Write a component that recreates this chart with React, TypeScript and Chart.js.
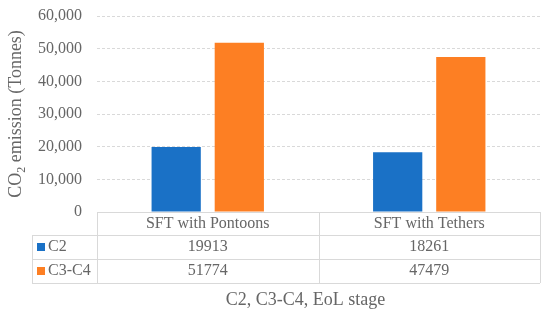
import React, { useEffect, useRef } from 'react';
import { Chart, registerables } from 'chart.js';

Chart.register(...registerables);

// ---- data ----
const categories = ['SFT with Pontoons', 'SFT with Tethers'];
const seriesNames = ['C2', 'C3-C4'];
const c2Values = [19913, 18261];
const c3c4Values = [51774, 47479];
const yMin = 0;
const yMax = 60000;
const yStep = 10000;
const yTitleParts = ['CO', '2', ' emission (Tonnes)'];
const xTitle = 'C2, C3-C4, EoL stage';

// ---- styles ----
const FONT = "'Liberation Serif', 'Times New Roman', serif";
const TEXT = '#666666';
const GRID = '#d9d9d9';
const COLORS = ['#1A71C6', '#FD7F23'];

const annotatePlugin = {
  id: 'tableAndTitles',
  afterDraw(chart: any) {
    const { ctx, chartArea, scales } = chart;
    const xs = scales.x;
    const top = chartArea.bottom;
    const left = chartArea.left;
    const right = chartArea.right;
    const legendLeft = 32;
    const headerH = 23;
    const rowH = 24;
    const ys = [top, top + headerH, top + headerH + rowH, top + headerH + 2 * rowH];
    const n = chart.data.labels.length;
    const bounds: number[] = [];
    for (let i = 0; i <= n; i++) {
      if (i === 0) bounds.push(left);
      else if (i === n) bounds.push(right);
      else bounds.push((xs.getPixelForValue(i - 1) + xs.getPixelForValue(i)) / 2);
    }
    const p = (v: number) => Math.round(v) + 0.5;
    ctx.save();
    ctx.strokeStyle = GRID;
    ctx.lineWidth = 1;
    const hline = (y: number, x0: number, x1: number) => {
      ctx.beginPath();
      ctx.moveTo(x0, p(y));
      ctx.lineTo(x1, p(y));
      ctx.stroke();
    };
    const vline = (x: number, y0: number, y1: number) => {
      ctx.beginPath();
      ctx.moveTo(p(x), y0);
      ctx.lineTo(p(x), y1);
      ctx.stroke();
    };
    hline(ys[0], left, right);
    for (let i = 1; i < ys.length; i++) hline(ys[i], legendLeft, right);
    vline(legendLeft, ys[1], ys[3]);
    bounds.forEach((b) => vline(b, ys[0], ys[3]));

    // data rows
    ctx.font = `16px ${FONT}`;
    ctx.fillStyle = TEXT;
    ctx.textBaseline = 'middle';
    chart.data.datasets.forEach((ds: any, r: number) => {
      const cy = (ys[r + 1] + ys[r + 2]) / 2;
      ctx.fillStyle = ds.backgroundColor;
      ctx.fillRect(legendLeft + 5, cy - 4, 8, 8);
      ctx.fillStyle = TEXT;
      ctx.textAlign = 'left';
      ctx.fillText(ds.label, legendLeft + 16, cy);
      ctx.textAlign = 'center';
      ds.data.forEach((v: number, i: number) => {
        ctx.fillText(String(v), xs.getPixelForValue(i), cy);
      });
    });

    // x title
    ctx.font = `18px ${FONT}`;
    ctx.textAlign = 'center';
    ctx.fillText(xTitle, (left + right) / 2 - 13, 300);

    // y title with subscript
    const big = `18px ${FONT}`;
    const small = `12px ${FONT}`;
    ctx.font = big;
    const w0 = ctx.measureText(yTitleParts[0]).width;
    const w2 = ctx.measureText(yTitleParts[2]).width;
    ctx.font = small;
    const w1 = ctx.measureText(yTitleParts[1]).width;
    const total = w0 + w1 + w2;
    ctx.translate(15, (chartArea.top + chartArea.bottom) / 2);
    ctx.rotate(-Math.PI / 2);
    ctx.textAlign = 'left';
    ctx.textBaseline = 'alphabetic';
    let x = -total / 2;
    ctx.font = big;
    ctx.fillText(yTitleParts[0], x, 6);
    x += w0;
    ctx.font = small;
    ctx.fillText(yTitleParts[1], x, 10);
    x += w1;
    ctx.font = big;
    ctx.fillText(yTitleParts[2], x, 6);
    ctx.restore();
  },
};

export default function App() {
  const ref = useRef<HTMLCanvasElement>(null);
  useEffect(() => {
    if (!ref.current) return;
    Chart.defaults.font.family = FONT;
    const chart = new Chart(ref.current, {
      type: 'bar',
      data: {
        labels: categories,
        datasets: [
          {
            label: seriesNames[0],
            data: c2Values,
            backgroundColor: COLORS[0],
            categoryPercentage: 0.57,
            barPercentage: 0.78,
          },
          {
            label: seriesNames[1],
            data: c3c4Values,
            backgroundColor: COLORS[1],
            categoryPercentage: 0.57,
            barPercentage: 0.78,
          },
        ],
      },
      options: {
        responsive: false,
        animation: false,
        layout: { padding: { top: 16, right: 10, left: 0, bottom: 0 } },
        plugins: {
          legend: { display: false },
          tooltip: { enabled: false },
          title: { display: false },
        },
        scales: {
          x: {
            grid: { display: false, drawTicks: false },
            border: { display: false },
            ticks: { font: { size: 16, family: FONT }, color: TEXT, padding: 2 },
            afterFit: (s: any) => {
              s.height = 109;
              s.paddingTop = 0;
              s.paddingBottom = 0;
            },
          },
          y: {
            min: yMin,
            max: yMax,
            grid: { color: GRID, drawTicks: false },
            border: { display: false, dash: [3, 2] },
            ticks: {
              stepSize: yStep,
              font: { size: 16, family: FONT },
              color: TEXT,
              padding: 15,
              callback: (v: any) => Number(v).toLocaleString('en-US'),
            },
            afterFit: (s: any) => {
              s.width = 97;
              s.paddingTop = 0;
              s.paddingBottom = 0;
            },
          },
        },
      },
      plugins: [annotatePlugin],
    });
    return () => chart.destroy();
  }, []);
  return (
    <div style={{ position: 'fixed', left: 0, top: 0, width: 550, height: 321, background: '#fff' }}>
      <canvas ref={ref} width={550} height={321} style={{ display: 'block' }} />
    </div>
  );
}
